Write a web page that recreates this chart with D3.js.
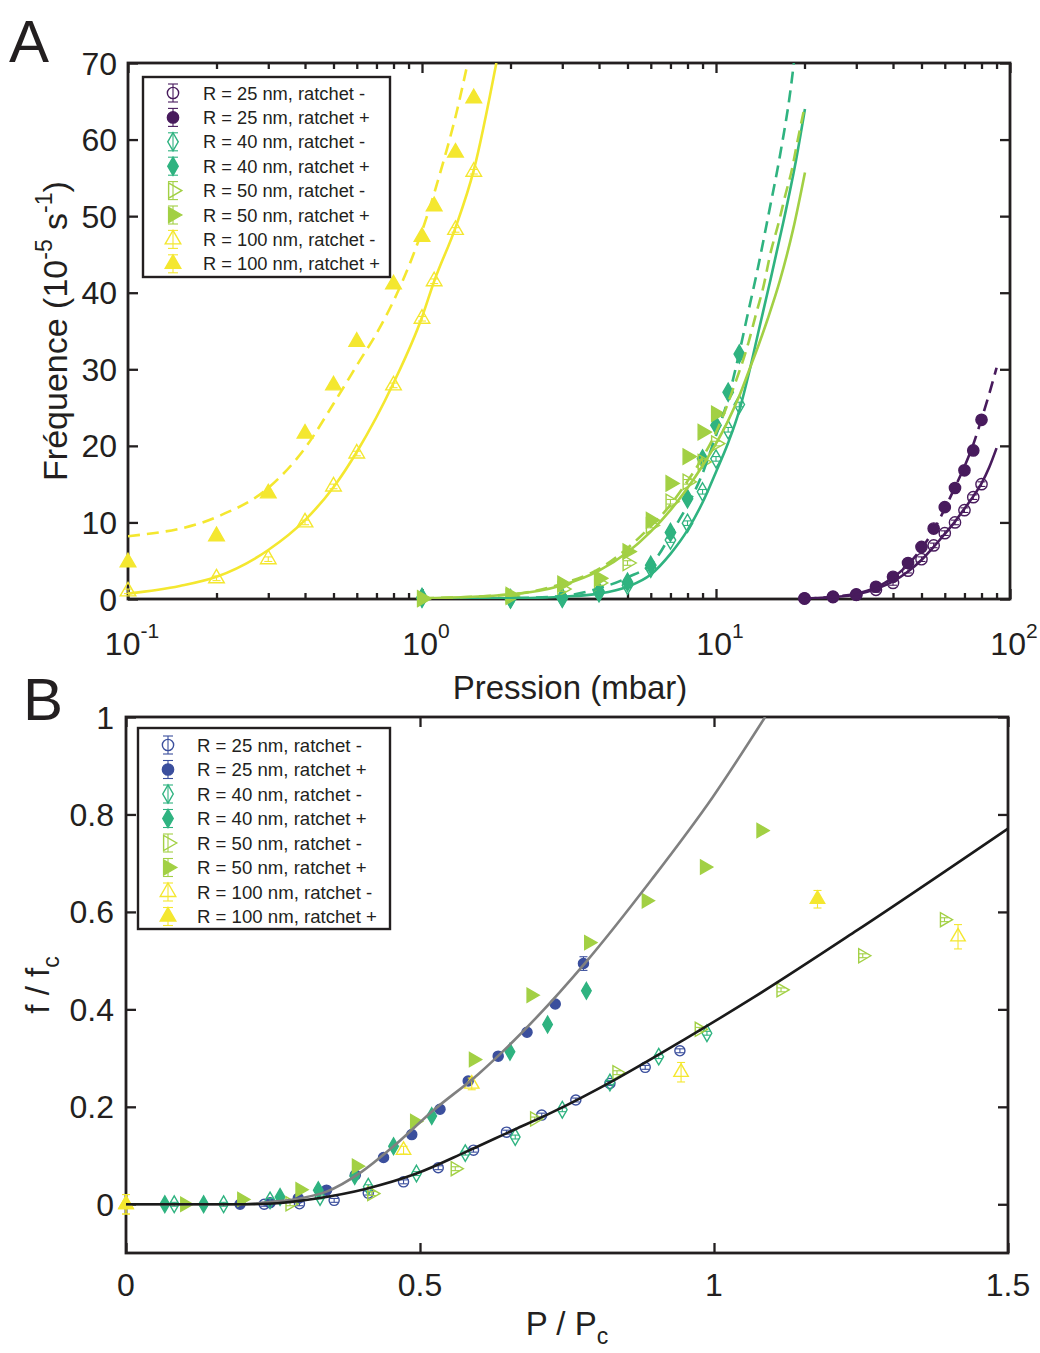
<!DOCTYPE html>
<html><head><meta charset="utf-8">
<script src="https://cdn.jsdelivr.net/npm/d3@7"></script>
<style>
body{margin:0;background:#fff}
text{font-family:"Liberation Sans",Arial,Helvetica,sans-serif;fill:#231f20}
</style>
</head><body>
<svg id="c" width="1040" height="1353"></svg>
<script>
// ---------------- DATA ----------------
// Legend labels (same for both panels)
const legendLabels = ["R = 25 nm, ratchet -","R = 25 nm, ratchet +","R = 40 nm, ratchet -","R = 40 nm, ratchet +",
  "R = 50 nm, ratchet -","R = 50 nm, ratchet +","R = 100 nm, ratchet -","R = 100 nm, ratchet +"];

// Panel A ticks
const aXMajor = [0.1, 1, 10, 100];
const aXExp = ["-1","0","1","2"];
const aXMinor = [0.2,0.3,0.4,0.5,0.6,0.7,0.8,0.9,2,3,4,5,6,7,8,9,20,30,40,50,60,70,80,90];
const aYTicks = [0,10,20,30,40,50,60,70];

// Panel A measured points [pressure mbar, frequency 1e-5 s-1]
const a25m = [[20,0.05],[25,0.25],[30,0.55],[35,1.2],[40,2.1],[45,3.7],[50,5.2],[55,7.0],[60,8.6],[65,10.0],[70,11.6],[75,13.3],[80,15.0]];
const a25p = [[20,0.1],[25,0.3],[30,0.6],[35,1.6],[40,2.9],[45,4.7],[50,6.8],[55,9.2],[60,12.0],[65,14.5],[70,16.8],[75,19.4],[80,23.4]];
const a40m = [[1,0.1],[2,0.0],[3,0.1],[4,0.8],[5,1.8],[6,4.0],[7,7.7],[8,9.9],[9,14.0],[10,18.3],[11,22.1],[12,25.4]];
const a40p = [[1,0.2],[2,0.05],[3,0.2],[4,1.0],[5,2.2],[6,4.4],[7,8.7],[8,13.1],[9,18.3],[10,22.7],[11,27.0],[12,32.0]];
const a50m = [[1,0.0],[2,0.3],[3,1.3],[4,2.1],[5,4.7],[6,9.6],[7,12.7],[8,15.3],[9,17.9],[10,20.3]];
const a50p = [[1,0.1],[2,0.5],[3,2.0],[4,2.7],[5,6.2],[6,10.3],[7,15.1],[8,18.6],[9,21.8],[10,24.2]];
const a100m = [[0.1,1.0],[0.2,2.7],[0.3,5.2],[0.4,10.0],[0.5,14.7],[0.6,19.0],[0.8,27.9],[1.0,36.6],[1.1,41.5],[1.3,48.2],[1.5,55.8]];
const a100p = [[0.1,4.8],[0.2,8.2],[0.3,13.8],[0.4,21.6],[0.5,27.9],[0.6,33.6],[0.8,41.1],[1.0,47.3],[1.1,51.3],[1.3,58.3],[1.5,65.4]];

// Panel A fitted curves
const fit25m = [[20,0.05],[25,0.25],[30,0.6],[35,1.3],[40,2.3],[45,3.6],[50,5.1],[55,6.8],[60,8.5],[65,10.1],[70,11.8],[75,13.4],[80,15.1],[85,17.2],[90,19.7]];
const fit25p = [[20,0.05],[25,0.3],[30,0.7],[35,1.5],[40,2.8],[45,4.5],[50,6.6],[55,9.0],[60,11.8],[65,14.6],[70,17.3],[75,20.2],[80,23.5],[85,26.8],[90,30.2]];
const fit40m = [[1,0],[2,0.1],[3,0.3],[4,0.7],[5,1.6],[6,3.2],[7,5.9],[8,9.0],[9,12.6],[10,16.6],[11,20.4],[12,24.6],[13,29.8],[14,35.2],[15.26,41.4],[16.94,49.2],[18.57,56.6],[20.07,64]];
const fit40p = [[1,0],[2,0.1],[3,0.4],[4,1.4],[5,2.8],[6.2,5.1],[7.25,9.4],[8.3,13.4],[9,16.4],[9.8,20.4],[11,26.2],[12.07,32.6],[12.72,36.6],[13.86,43.1],[15.07,50.1],[16.5,57.9],[18,67],[18.4,70]];
const fit50m = [[1,0.1],[2,0.6],[3,1.8],[4,3.7],[5,6.1],[6,8.8],[7,11.6],[8,14.5],[9,17.4],[10,20.3],[11,23.3],[12,26.5],[13,30],[14,33.3],[15,36.6],[16.5,41.6],[18.3,48.3],[20.07,55.7]];
const fit50p = [[1,0.1],[2,0.6],[3,2.0],[4.03,4.0],[4.6,5.5],[5.23,7.3],[5.96,9.4],[6.9,12],[7.74,14.6],[8.82,17.9],[10.2,22.5],[11.45,27.5],[12.9,33.5],[13.7,37.3],[14.5,40.8],[15.35,45.3],[16.3,49],[17.2,52.7],[18.1,56],[18.8,59.2],[19.9,63.8]];
const fit100m = [[0.1,0.7],[0.15,1.7],[0.2,2.9],[0.3,6.4],[0.4,10.3],[0.5,14.6],[0.6,19.2],[0.8,28.2],[1.0,36.8],[1.1,41.5],[1.3,48.5],[1.5,56],[1.79,70]];
const fit100p = [[0.1,8.2],[0.2,10.7],[0.3,14.5],[0.4,19.7],[0.5,25.5],[0.6,30.5],[0.72,35.5],[0.82,39.8],[0.92,44.3],[1.04,50],[1.17,56.5],[1.31,63.5],[1.43,70]];

// Panel B ticks
const bXTicks = [0, 0.5, 1, 1.5];
const bXLabels = ["0","0.5","1","1.5"];
const bYTicks = [0, 0.2, 0.4, 0.6, 0.8, 1];
const bYLabels = ["0","0.2","0.4","0.6","0.8","1"];

// Panel B measured points [P/Pc, f/fc, (optional error)]
const b25m = [[0.235,0],[0.295,0.001],[0.354,0.008],[0.412,0.023],[0.472,0.046],[0.531,0.075],[0.591,0.111],[0.647,0.148],[0.707,0.183],[0.765,0.214],[0.823,0.248],[0.883,0.281],[0.942,0.315]];
const b25p = [[0.194,0],[0.245,0.003],[0.293,0.012],[0.341,0.029],[0.39,0.06],[0.438,0.096],[0.486,0.143],[0.534,0.195],[0.582,0.253],[0.633,0.304],[0.682,0.353],[0.73,0.411],[0.778,0.494,0.014]];
const b40m = [[0.082,0],[0.166,0],[0.245,0.008],[0.33,0.015],[0.412,0.036],[0.494,0.063],[0.577,0.105],[0.662,0.138],[0.742,0.194],[0.823,0.25],[0.906,0.303],[0.988,0.351]];
const b40p = [[0.066,0],[0.132,0],[0.262,0.015],[0.327,0.029],[0.389,0.058],[0.455,0.119],[0.52,0.181],[0.653,0.313],[0.717,0.369],[0.783,0.438]];
const b50m = [[0.279,0.001],[0.418,0.022],[0.56,0.073],[0.695,0.175],[0.835,0.27],[0.975,0.359],[1.114,0.44],[1.253,0.51],[1.392,0.584]];
const b50p = [[0.1,0],[0.197,0.01],[0.296,0.03],[0.392,0.078],[0.491,0.17],[0.591,0.297],[0.689,0.429],[0.787,0.537],[0.885,0.623],[0.984,0.692],[1.08,0.767]];
const b100m = [[0,0,0.02],[0.472,0.111,0.008],[0.588,0.247,0.012],[0.944,0.271,0.02],[1.415,0.549,0.025]];
const b100p = [[0,0,0.02],[1.176,0.626,0.018]];

// Panel B model curves
const curveGray = [[0,0],[0.2,0],[0.239,0.004],[0.3,0.013],[0.341,0.026],[0.4,0.066],[0.455,0.119],[0.52,0.19],[0.6,0.268],[0.659,0.335],[0.78,0.494],[0.893,0.665],[0.998,0.836],[1.087,1.0]];
const curveBlack = [[0,0],[0.2,0],[0.24,0.001],[0.324,0.012],[0.409,0.032],[0.494,0.063],[0.579,0.108],[0.66,0.153],[0.72,0.186],[0.835,0.258],[0.952,0.34],[1.068,0.425],[1.243,0.562],[1.5,0.771]];

// ---------------- DRAWING ----------------
const svg = d3.select("#c");
svg.append("rect").attr("width",1040).attr("height",1353).attr("fill","#fff");
const INK = "#231f20";
const COL = {p:"#481b5d", b:"#3b4f9d", t:"#2fb380", g:"#a2d044", y:"#f4e72f"};

function symPath(shape, size){
  const t = shape==="circle"?d3.symbolCircle: shape==="diamond"?d3.symbolDiamond: d3.symbolTriangle;
  return d3.symbol().type(t).size(size)();
}
function drawMarker(g, shape, filled, color, x, y, size){
  return g.append("path").attr("d", symPath(shape,size))
    .attr("transform", `translate(${x},${y})` + (shape==="right"?" rotate(90)":""))
    .attr("fill", filled?color:"none").attr("stroke", color).attr("stroke-width",1.4);
}
function drawErr(g, color, x, y1, y2, cap){
  g.append("line").attr("x1",x).attr("x2",x).attr("y1",y1).attr("y2",y2).attr("stroke",color).attr("stroke-width",1.1);
  [y1,y2].forEach(yy=>g.append("line").attr("x1",x-cap).attr("x2",x+cap).attr("y1",yy).attr("y2",yy).attr("stroke",color).attr("stroke-width",1.1));
}
function drawSeries(g, pts, xs, ys, shape, filled, color, size, defErr){
  pts.forEach(d=>{
    const e = d.length>2?d[2]:defErr;
    drawErr(g, color, xs(d[0]), ys(d[1]-e), ys(d[1]+e), 4);
    drawMarker(g, shape, filled, color, xs(d[0]), ys(d[1]), size);
  });
}
function styleAxis(sel){
  sel.select(".domain").remove();
  sel.selectAll("line").attr("stroke",INK).attr("stroke-width",2.3);
  sel.selectAll("text").remove();
}

// ===== Panel A =====
const xA = d3.scaleLog().domain([0.1,100]).range([128,1010]);
const yA = d3.scaleLinear().domain([0,70]).range([599,63]);
const gA = svg.append("g");

gA.append("g").attr("transform","translate(0,599)").call(d3.axisBottom(xA).tickValues(aXMajor).tickSizeInner(-10).tickSizeOuter(0)).call(styleAxis);
gA.append("g").attr("transform","translate(0,599)").call(d3.axisBottom(xA).tickValues(aXMinor).tickSizeInner(-6).tickSizeOuter(0)).call(styleAxis);
gA.append("g").attr("transform","translate(0,63)").call(d3.axisTop(xA).tickValues(aXMajor).tickSizeInner(-10).tickSizeOuter(0)).call(styleAxis);
gA.append("g").attr("transform","translate(0,63)").call(d3.axisTop(xA).tickValues(aXMinor).tickSizeInner(-6).tickSizeOuter(0)).call(styleAxis);
gA.append("g").attr("transform","translate(128,0)").call(d3.axisLeft(yA).tickValues(aYTicks).tickSizeInner(-10).tickSizeOuter(0)).call(styleAxis);
gA.append("g").attr("transform","translate(1010,0)").call(d3.axisRight(yA).tickValues(aYTicks).tickSizeInner(-10).tickSizeOuter(0)).call(styleAxis);
gA.append("rect").attr("x",128).attr("y",63).attr("width",882).attr("height",536).attr("fill","none").attr("stroke",INK).attr("stroke-width",2.8);

// tick labels A
aXMajor.forEach((v,i)=>{
  const t = gA.append("text").attr("x",xA(v)+4).attr("y",655).attr("text-anchor","middle").attr("font-size",32);
  t.append("tspan").text("10");
  t.append("tspan").attr("dy",-17).attr("font-size",21).text(aXExp[i]);
});
aYTicks.forEach(v=>{
  gA.append("text").attr("x",117).attr("y",yA(v)).attr("dy","0.36em").attr("text-anchor","end").attr("font-size",32).text(v);
});
// axis titles A
gA.append("text").attr("x",570).attr("y",699).attr("text-anchor","middle").attr("font-size",33).text("Pression (mbar)");
{
  const t = gA.append("text").attr("transform","translate(67,331) rotate(-90)").attr("text-anchor","middle").attr("font-size",34);
  t.append("tspan").text("Fréquence (10");
  t.append("tspan").attr("dy",-15).attr("font-size",23).text("-5");
  t.append("tspan").attr("dy",15).text(" s");
  t.append("tspan").attr("dy",-15).attr("font-size",23).text("-1");
  t.append("tspan").attr("dy",15).text(")");
}
svg.append("text").attr("x",9).attr("y",62).attr("font-size",60).text("A");

// clip regions
svg.append("clipPath").attr("id","clipA").append("rect").attr("x",128).attr("y",63).attr("width",882).attr("height",536);
svg.append("clipPath").attr("id","clipB").append("rect").attr("x",126).attr("y",717).attr("width",882).attr("height",536);

const ptsA = gA.append("g");
const seriesA = [
  [a25m,"circle",false,COL.p],[a25p,"circle",true,COL.p],
  [a40m,"diamond",false,COL.t],[a40p,"diamond",true,COL.t],
  [a50m,"right",false,COL.g],[a50p,"right",true,COL.g],
  [a100m,"triangle",false,COL.y],[a100p,"triangle",true,COL.y]
];
const sizeOf = {circle:100, diamond:95, right:100, triangle:105};
seriesA.forEach(s=>drawSeries(ptsA, s[0], xA, yA, s[1], s[2], s[3], sizeOf[s[1]], 0.3));

const lineA = d3.line().x(d=>xA(d[0])).y(d=>yA(d[1])).curve(d3.curveMonotoneX);
const curvesA = [
  [fit25m,COL.p,false],[fit25p,COL.p,true],
  [fit40m,COL.t,false],[fit40p,COL.t,true],
  [fit50m,COL.g,false],[fit50p,COL.g,true],
  [fit100m,COL.y,false],[fit100p,COL.y,true]
];
const cA = gA.append("g").attr("clip-path","url(#clipA)");
curvesA.forEach(c=>{
  cA.append("path").attr("d",lineA(c[0])).attr("fill","none").attr("stroke",c[1]).attr("stroke-width",2.6)
    .attr("stroke-dasharray", c[2]?"12,7":null);
});

// legends
function drawLegend(g, x0, y0, w, h, rowY, step, mx, tx, fs, colors){
  g.append("rect").attr("x",x0).attr("y",y0).attr("width",w).attr("height",h).attr("fill","#fff").attr("stroke",INK).attr("stroke-width",2.4);
  const shapes = ["circle","circle","diamond","diamond","right","right","triangle","triangle"];
  legendLabels.forEach((lab,i)=>{
    const y = rowY + i*step;
    const c = colors[i];
    drawErr(g, c, mx, y-9, y+9, 5);
    drawMarker(g, shapes[i], i%2===1, c, mx, y, sizeOf[shapes[i]]);
    g.append("text").attr("x",tx).attr("y",y).attr("dy","0.36em").attr("font-size",fs).text(lab);
  });
}
drawLegend(gA, 143, 77, 247, 200, 93, 24.4, 173, 203, 18.3, [COL.p,COL.p,COL.t,COL.t,COL.g,COL.g,COL.y,COL.y]);

// ===== Panel B =====
const xB = d3.scaleLinear().domain([0,1.5]).range([126,1008]);
const yB = d3.scaleLinear().domain([-0.1,1]).range([1253,717]);
const gB = svg.append("g");
gB.append("g").attr("transform","translate(0,1253)").call(d3.axisBottom(xB).tickValues(bXTicks).tickSizeInner(-10).tickSizeOuter(0)).call(styleAxis);
gB.append("g").attr("transform","translate(0,717)").call(d3.axisTop(xB).tickValues(bXTicks).tickSizeInner(-10).tickSizeOuter(0)).call(styleAxis);
gB.append("g").attr("transform","translate(126,0)").call(d3.axisLeft(yB).tickValues(bYTicks).tickSizeInner(-10).tickSizeOuter(0)).call(styleAxis);
gB.append("g").attr("transform","translate(1008,0)").call(d3.axisRight(yB).tickValues(bYTicks).tickSizeInner(-10).tickSizeOuter(0)).call(styleAxis);
gB.append("rect").attr("x",126).attr("y",717).attr("width",882).attr("height",536).attr("fill","none").attr("stroke",INK).attr("stroke-width",2.8);

bXTicks.forEach((v,i)=>{
  gB.append("text").attr("x",xB(v)).attr("y",1296).attr("text-anchor","middle").attr("font-size",32).text(bXLabels[i]);
});
bYTicks.forEach((v,i)=>{
  gB.append("text").attr("x",114).attr("y",yB(v)).attr("dy","0.36em").attr("text-anchor","end").attr("font-size",32).text(bYLabels[i]);
});
{
  const t = gB.append("text").attr("x",567).attr("y",1335).attr("text-anchor","middle").attr("font-size",33);
  t.append("tspan").text("P / P");
  t.append("tspan").attr("dy",9).attr("font-size",23).text("c");
}
{
  const t = gB.append("text").attr("transform","translate(49,985) rotate(-90)").attr("text-anchor","middle").attr("font-size",33);
  t.append("tspan").text("f / f");
  t.append("tspan").attr("dy",10).attr("font-size",23).text("c");
}
svg.append("text").attr("x",23).attr("y",720).attr("font-size",60).text("B");

const lineB = d3.line().x(d=>xB(d[0])).y(d=>yB(d[1])).curve(d3.curveMonotoneX);
const ptsB = gB.append("g");
const seriesB = [
  [b25m,"circle",false,COL.b],[b25p,"circle",true,COL.b],
  [b40m,"diamond",false,COL.t],[b40p,"diamond",true,COL.t],
  [b50m,"right",false,COL.g],[b50p,"right",true,COL.g],
  [b100m,"triangle",false,COL.y],[b100p,"triangle",true,COL.y]
];
const sizeB = {circle:80, diamond:80, right:85, triangle:90};
seriesB.forEach(s=>drawSeries(ptsB, s[0], xB, yB, s[1], s[2], s[3], sizeB[s[1]], 0.004));
const cB = gB.append("g").attr("clip-path","url(#clipB)");
cB.append("path").attr("d",lineB(curveGray)).attr("fill","none").attr("stroke","#808080").attr("stroke-width",2.6);
cB.append("path").attr("d",lineB(curveBlack)).attr("fill","none").attr("stroke","#1a1a1a").attr("stroke-width",2.6);

drawLegend(gB, 138, 728, 252, 201, 745, 24.5, 168, 197, 18.6, [COL.b,COL.b,COL.t,COL.t,COL.g,COL.g,COL.y,COL.y]);
</script>
</body></html>
